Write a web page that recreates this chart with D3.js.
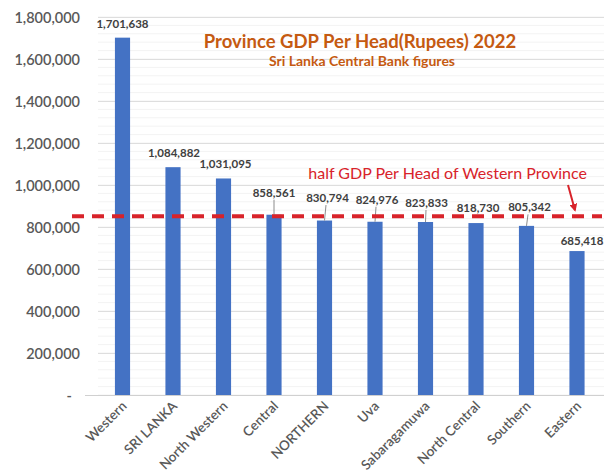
<!DOCTYPE html>
<html><head><meta charset="utf-8">
<script src="https://cdn.jsdelivr.net/npm/d3@7/dist/d3.min.js"></script>
<style>body{margin:0;background:#fff}svg{display:block}</style>
</head><body>
<svg id="c" width="604" height="474"></svg>
<script>
const categories = ["Western","SRI LANKA","North Western","Central","NORTHERN","Uva","Sabaragamuwa","North Central","Southern","Eastern"];
const values = [1701638,1084882,1031095,858561,830794,824976,823833,818730,805342,685418];
const yTicks = [0,200000,400000,600000,800000,1000000,1200000,1400000,1600000,1800000];
const labelLift = [10,10,10,18,18.5,18,15,11,14.5,6];
const labelShift = [0,1,2,0,3,2,1,2,3,5];
const titleText = "Province GDP Per Head(Rupees) 2022";
const subtitleText = "Sri Lanka Central Bank figures";
const refText = "half GDP Per Head of Western Province";

const svg = d3.select("#c");
const font = "Lato, 'Open Sans', sans-serif";
const x = d3.scaleBand().domain(categories).range([97.25, 602.25]).paddingInner(0.7).paddingOuter(0.35);
const y = d3.scaleLinear().domain([0, 1800000]).range([395, 17]);

// minor gridlines
svg.append("g").selectAll("line").data(d3.range(0, 1800001, 40000)).join("line")
  .attr("x1", 98).attr("x2", 604).attr("y1", d => y(d)).attr("y2", d => y(d))
  .attr("stroke", "#f3f3f3").attr("stroke-width", 1);
// major gridlines
svg.append("g").selectAll("line").data(yTicks.slice(1)).join("line")
  .attr("x1", 98).attr("x2", 604).attr("y1", d => y(d)+0.5).attr("y2", d => y(d)+0.5)
  .attr("stroke", "#dedede").attr("stroke-width", 1);
// baseline
svg.append("line").attr("x1", 85).attr("x2", 604).attr("y1", y(0)+0.5).attr("y2", y(0)+0.5)
  .attr("stroke", "#d0d0d0");

// y axis
const yAxis = d3.axisLeft(y).tickValues(yTicks).tickSize(0).tickPadding(0)
  .tickFormat(d => d === 0 ? "-" : d3.format(",")(d));
const ga = svg.append("g").attr("transform", "translate(80,0)").call(yAxis);
ga.select(".domain").remove();
ga.selectAll("text").attr("font-family", font).attr("font-size", 14.5).attr("font-weight", 600)
  .attr("fill", "#595959").attr("dy", "0.35em");
ga.selectAll(".tick").filter(d => d === 0).select("text").attr("dx", -8);

// bars
svg.append("g").selectAll("rect").data(values).join("rect")
  .attr("x", (d, i) => x(categories[i])).attr("width", x.bandwidth())
  .attr("y", d => y(d)).attr("height", d => y(0) - y(d)).attr("fill", "#4472C4");

// leader lines
const leaders = values.map((v, i) => ({v, i})).filter(o => labelLift[o.i] > 14);
svg.append("g").selectAll("line").data(leaders).join("line")
  .attr("x1", o => x(categories[o.i]) + x.bandwidth()/2 + labelShift[o.i]*0.5)
  .attr("x2", o => x(categories[o.i]) + x.bandwidth()/2)
  .attr("y1", o => y(o.v) - labelLift[o.i] + 3)
  .attr("y2", o => y(o.v))
  .attr("stroke", "#8c8c8c").attr("stroke-width", 1);

// data labels
svg.append("g").selectAll("text").data(values).join("text")
  .attr("x", (d, i) => x(categories[i]) + x.bandwidth()/2 + labelShift[i])
  .attr("y", (d, i) => y(d) - labelLift[i])
  .attr("text-anchor", "middle").attr("font-family", font).attr("font-size", 11.5).attr("font-weight", 700)
  .attr("fill", "#404040").text(d => d3.format(",")(d));

// x labels
svg.append("g").selectAll("text").data(categories).join("text")
  .attr("transform", d => `translate(${x(d) + x.bandwidth()/2 + 5},${407}) rotate(-45)`)
  .attr("text-anchor", "end").attr("font-family", font).attr("font-size", 13.5).attr("font-weight", 600)
  .attr("fill", "#595959").text(d => d);

// reference line: half of Western
const half = values[0] / 2;
svg.append("line").attr("x1", 72).attr("x2", 602).attr("y1", y(half)).attr("y2", y(half))
  .attr("stroke", "#d8232a").attr("stroke-width", 4).attr("stroke-dasharray", "12,8");
svg.append("text").attr("x", 587).attr("y", 179).attr("text-anchor", "end")
  .attr("font-family", font).attr("font-size", 16).attr("fill", "#d8232a").text(refText);
// arrow
svg.append("defs").append("marker").attr("id", "ah").attr("viewBox", "0 0 10 10")
  .attr("refX", 8).attr("refY", 5).attr("markerWidth", 4).attr("markerHeight", 4).attr("orient", "auto")
  .append("path").attr("d", "M0,0 L10,5 L0,10 Z").attr("fill", "#d8232a");
svg.append("line").attr("x1", 568).attr("y1", 185).attr("x2", 575).attr("y2", y(half) - 6)
  .attr("stroke", "#d8232a").attr("stroke-width", 2).attr("marker-end", "url(#ah)");

// titles
svg.append("text").attr("x", 360).attr("y", 48).attr("text-anchor", "middle")
  .attr("font-family", font).attr("font-size", 18.5).attr("font-weight", 700).attr("fill", "#C55A11").text(titleText);
svg.append("text").attr("x", 362).attr("y", 66).attr("text-anchor", "middle")
  .attr("font-family", font).attr("font-size", 14).attr("font-weight", 700).attr("fill", "#C55A11").text(subtitleText);
</script>
</body></html>
